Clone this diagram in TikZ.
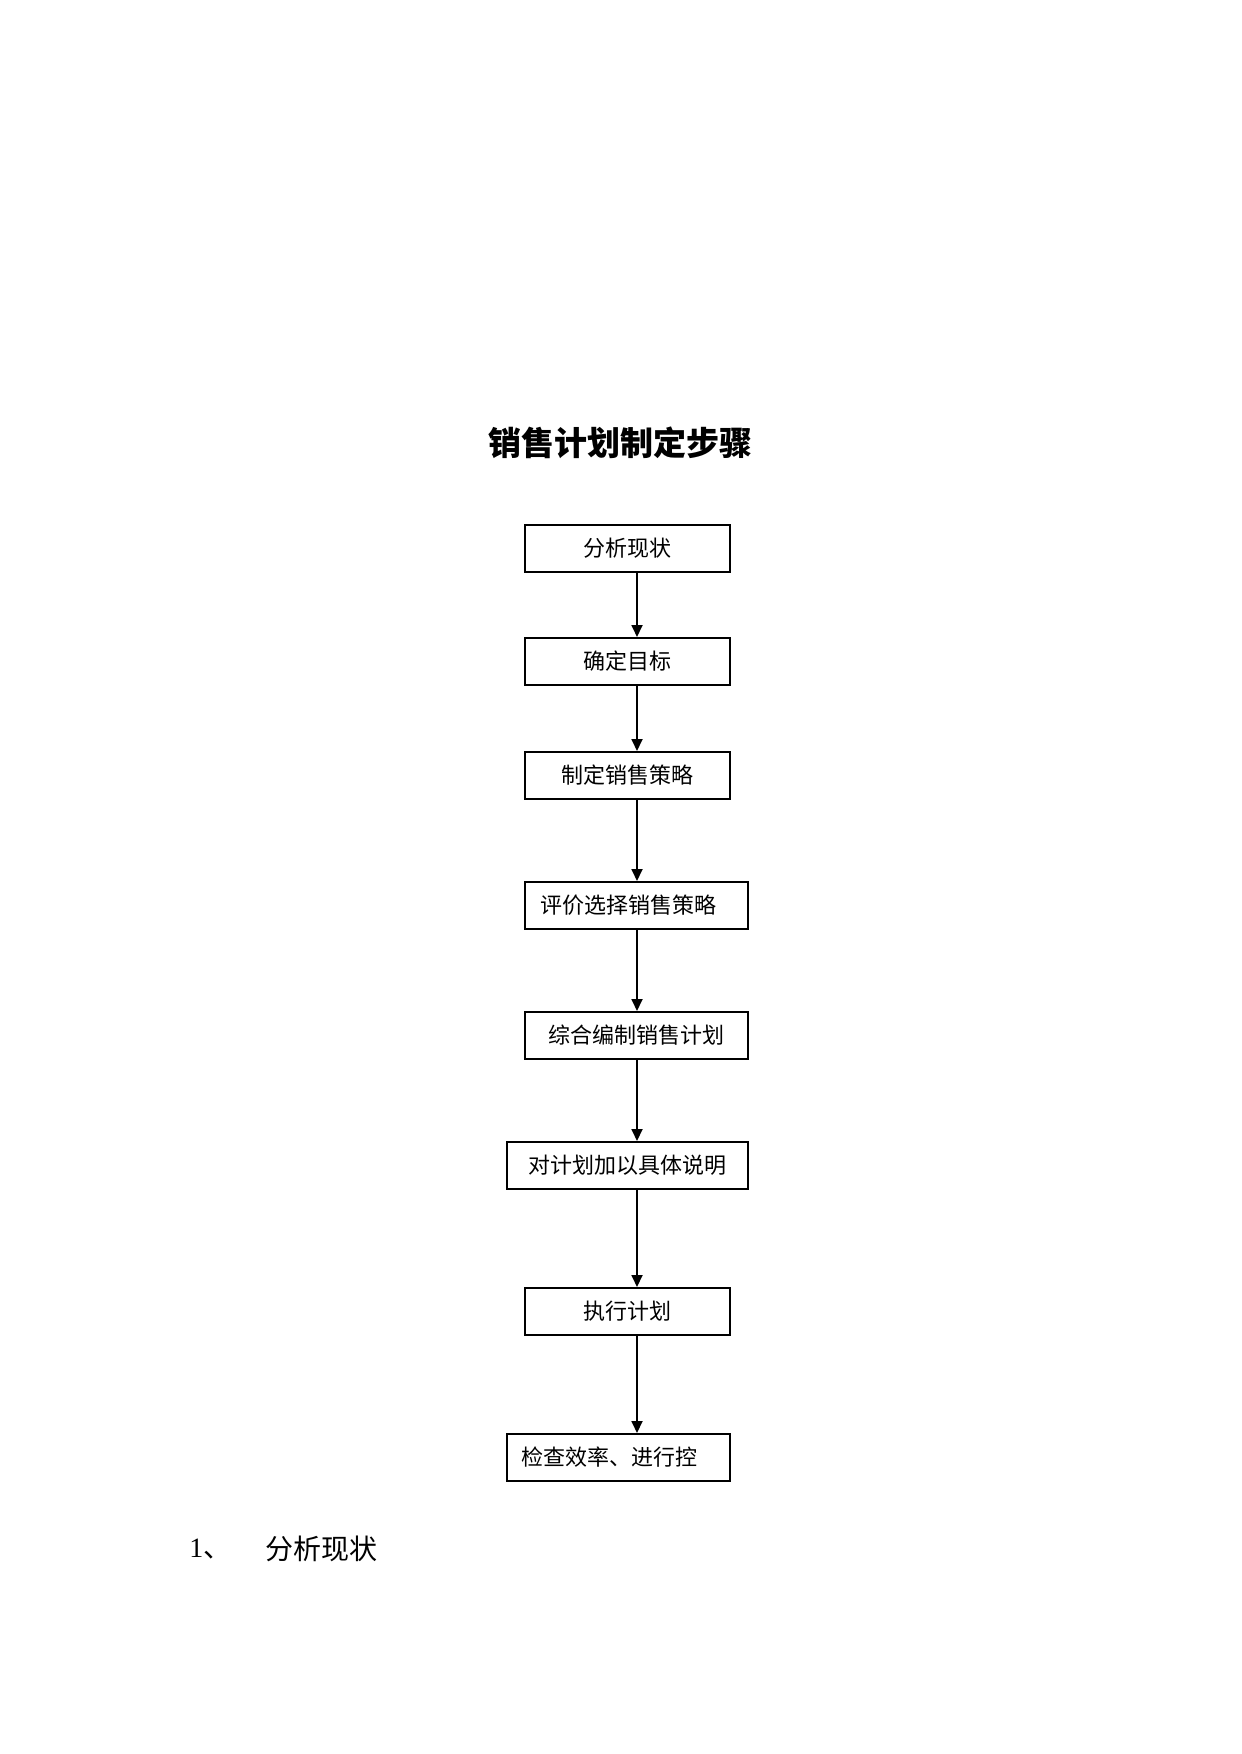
\documentclass[tikz,border=0pt]{standalone}
\usepackage{fontspec}
\newfontfamily\cjk{Noto Sans CJK SC}
\newfontfamily\lserif{Liberation Serif}
\usetikzlibrary{arrows.meta}
\tikzset{
  stepbox/.style={draw=black, line width=1pt, inner sep=0pt, minimum height=23.5pt, font=\cjk\fontsize{11pt}{13pt}\selectfont},
  flowarrow/.style={draw=black, line width=0.9pt, -{Triangle[length=6pt,width=5.5pt]}},
}
\begin{document}
\begin{tikzpicture}[x=0.5pt,y=-0.5pt]
\useasboundingbox (0,0) rectangle (1241,1754);
\node[font=\cjk\bfseries\fontsize{16.5pt}{18pt}\selectfont] (title) at (620,443) {销售计划制定步骤};
\node[stepbox, minimum width=102.5pt] (b1) at (627.5,548) {分析现状};
\node[stepbox, minimum width=102.5pt] (b2) at (627.5,661.5) {确定目标};
\node[stepbox, minimum width=102.5pt] (b3) at (627.5,775.5) {制定销售策略};
\node[stepbox, minimum width=111.5pt] (b4) at (636.5,905.5) {评价选择销售策略\hspace*{8.5pt}};
\node[stepbox, minimum width=111.5pt] (b5) at (636.5,1035.5) {综合编制销售计划};
\node[stepbox, minimum width=120.5pt] (b6) at (627.5,1165.5) {对计划加以具体说明};
\node[stepbox, minimum width=102.5pt] (b7) at (627.5,1311.5) {执行计划};
\node[stepbox, minimum width=111.5pt] (b8) at (618.5,1457.5) {检查效率、进行控\hspace*{9pt}};
\coordinate (ax) at (637,0);
\foreach \a/\b in {b1/b2,b2/b3,b3/b4,b4/b5,b5/b6,b6/b7,b7/b8}{
  \draw[flowarrow] (\a.south -| ax) -- (\b.north -| ax);
}
\node[anchor=west, inner sep=0pt, font=\fontsize{14pt}{16pt}\selectfont] (n1) at (189,1549) {{\lserif 1}{\cjk 、}};
\node[anchor=west, inner sep=0pt, font=\cjk\fontsize{14pt}{16pt}\selectfont] (n2) at (265,1549) {分析现状};
\end{tikzpicture}
\end{document}
